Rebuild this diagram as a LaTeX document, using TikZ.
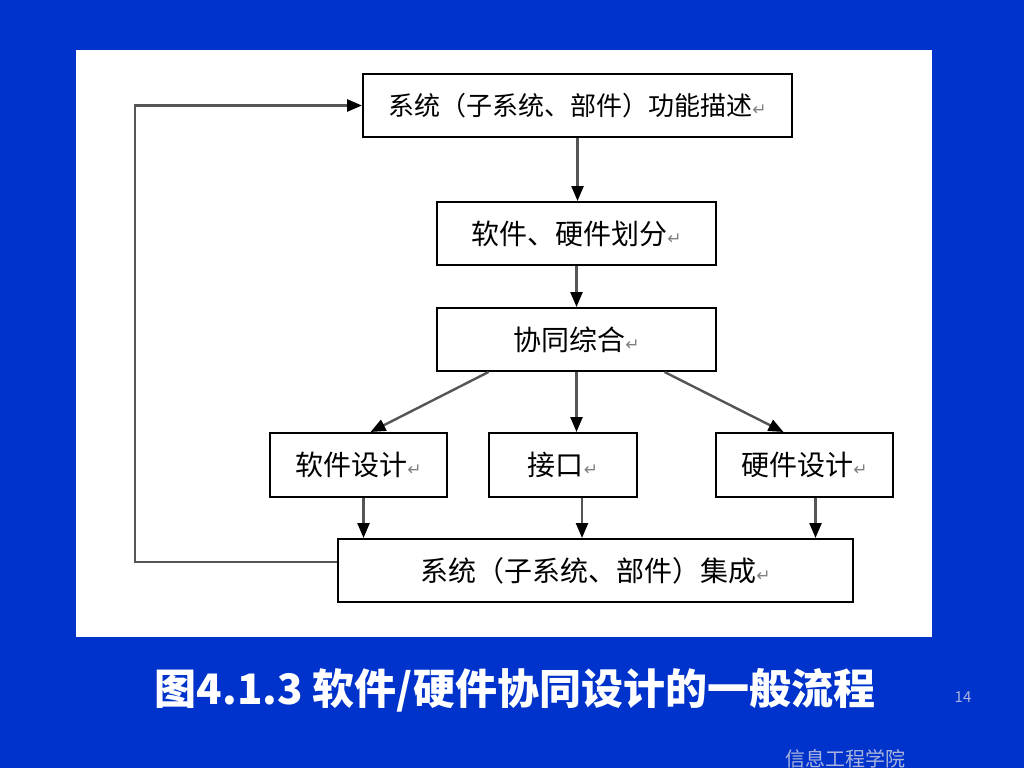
\documentclass[tikz,border=0pt]{standalone}
\usepackage{fontspec}
\newfontfamily\cjk{Noto Sans CJK SC}
\newfontfamily\markfont{DejaVu Sans}
\usetikzlibrary{arrows.meta,calc}

\definecolor{slideblue}{RGB}{0,51,204}
\definecolor{linegray}{RGB}{85,85,85}
\definecolor{footgray}{RGB}{170,180,220}

\newcommand{\pmark}{{\markfont\fontsize{17}{17}\selectfont\textcolor{gray}{↵}}}

\begin{document}
\begin{tikzpicture}[x=1pt, y=-1pt,
	every node/.style={font=\cjk},
	box/.style={draw=black, line width=2pt, fill=white, inner sep=0pt, minimum height=63pt, font=\cjk\fontsize{28}{30}\selectfont},
	flow/.style={draw=linegray, line width=2.4pt, -{Triangle[length=15pt,width=12pt,black]}}]
	
	%---------------------------------------------
	
	\fill[slideblue] (0,0) rectangle (1024,768);
	\useasboundingbox (0,0) rectangle (1024,768);
	\fill[white] (76,50) rectangle (932,637);
	
	%---------------------------------------------
	
	\node[box, minimum width=429pt, font=\cjk\fontsize{26}{28}\selectfont] (func) at (577.5,105.5) {系统（子系统、部件）功能描述\pmark};
	\node[box, minimum width=279pt] (part) at (576.5,233.5) {软件、硬件划分\pmark};
	\node[box, minimum width=279pt] (cosyn) at (576.5,339.5) {协同综合\pmark};
	\node[box, minimum width=177pt, minimum height=64pt] (swdes) at (358.5,465) {软件设计\pmark};
	\node[box, minimum width=148pt, minimum height=64pt] (iface) at (563,465) {接口\pmark};
	\node[box, minimum width=177pt, minimum height=64pt] (hwdes) at (804.5,465) {硬件设计\pmark};
	\node[box, minimum width=515pt] (integ) at (595.5,570.5) {系统（子系统、部件）集成\pmark};
	
	%---------------------------------------------
	
	\draw[flow] (func.south) -- (func.south |- part.north);
	\draw[flow] (part.south) -- (part.south |- cosyn.north);
	
	\draw[flow] ([xshift=-88pt]cosyn.south) -- ([xshift=12pt]swdes.north);
	\draw[flow] (cosyn.south) -- (cosyn.south |- iface.north);
	\draw[flow] ([xshift=88pt]cosyn.south) -- ([xshift=-21pt]hwdes.north);
	
	\draw[flow] ([xshift=5pt]swdes.south) -- ([xshift=5pt]swdes.south |- integ.north);
	\draw[flow] ([xshift=19pt]iface.south) -- ([xshift=19pt]iface.south |- integ.north);
	\draw[flow] ([xshift=11pt]hwdes.south) -- ([xshift=11pt]hwdes.south |- integ.north);
	
	\coordinate (back) at (135,562);
	\draw[flow, line width=2.8pt] (integ.west |- back) -- (back) |- (func.west);
	
	%---------------------------------------------
	
	\node[text=white, font=\cjk\bfseries\fontsize{42}{46}\selectfont] (caption) at (515,690) {图4.1.3 软件/硬件协同设计的一般流程};
	\node[text=footgray, font=\cjk\fontsize{15}{16}\selectfont] (pageno) at (963,697) {14};
	\node[text=footgray, font=\cjk\fontsize{20}{22}\selectfont] (school) at (845,759) {信息工程学院};
	
	%---------------------------------------------
	
\end{tikzpicture}
\end{document}
